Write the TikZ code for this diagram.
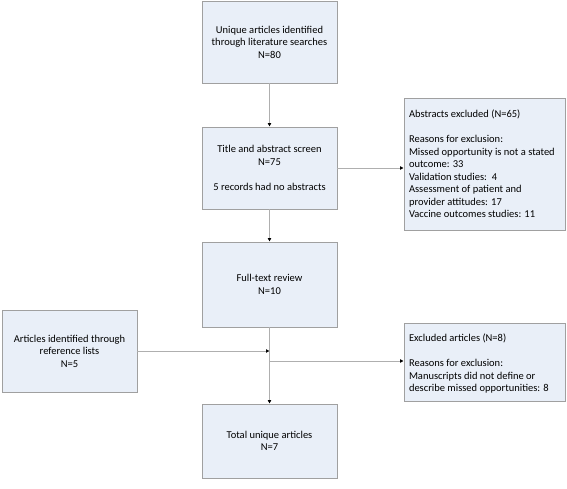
\documentclass[tikz,border=0pt]{standalone}
\usepackage{fontspec}
\setmainfont{Carlito}
\usetikzlibrary{arrows.meta}
\definecolor{FlowFill}{RGB}{233,239,248}
\definecolor{FlowLine}{RGB}{160,160,160}
\definecolor{LinkGray}{RGB}{175,175,175}
\def\FlowFont{\fontsize{10.5}{12.5}\selectfont}

\begin{document}
\begin{tikzpicture}
    [x=1pt,y=-1pt,
     box/.style={rectangle,draw=FlowLine,fill=FlowFill,line width=0.8pt,align=center,
       inner sep=0pt,minimum width=135pt,font=\FlowFont},
     reason/.style={box,inner sep=5pt,align=left},
     link/.style={draw=LinkGray,line width=0.9pt,-{Latex[length=3.5pt,width=4pt,color=black]}},
    ]
    \useasboundingbox (0,0) rectangle (567,489);
    \node[box,minimum height=82pt] (search) at (269.5,42) {Unique articles identified\\through literature searches\\N=80};
    \node[box,minimum height=82pt] (screen) at (269.5,168) {Title and abstract screen\\N=75\\[12.5pt]5 records had no abstracts};
    \node[box,minimum height=85pt] (fulltext) at (269.5,284.5) {Full-text review\\N=10};
    \node[box,minimum height=74pt] (total) at (269.5,441) {Total unique articles\\N=7};
    \node[box,minimum height=82pt] (reflist) at (69.5,351) {Articles identified through\\reference lists\\N=5};
    \node[reason] (abstr) at (484.5,164) {\parbox[c][122pt][t]{151pt}{\raggedright\vspace*{7pt}%
      Abstracts excluded (N=65)\\[12.5pt]Reasons for exclusion:\\Missed opportunity is not a stated\\outcome: 33\\Validation studies:\ \ 4\\Assessment of patient and\\provider attitudes: 17\\Vaccine outcomes studies: 11}};
    \node[reason] (excl) at (484.5,362) {\parbox[c][68pt][t]{151pt}{\raggedright\vspace*{6pt}%
      Excluded articles (N=8)\\[12.5pt]Reasons for exclusion:\\Manuscripts did not define or\\describe missed opportunities: 8}};
    % connectors
    \coordinate (split) at (269.5,361);
    \draw[link] (search) -- (screen);
    \draw[link] (screen.east) -- (screen.east -| abstr.west);
    \draw[link] (screen) -- (fulltext);
    \draw[link] (fulltext) -- (total);
    \draw[link] (reflist.east) -- (reflist.east -| fulltext.south);
    \draw[link] (split) -- (split -| excl.west);
\end{tikzpicture}
\end{document}
